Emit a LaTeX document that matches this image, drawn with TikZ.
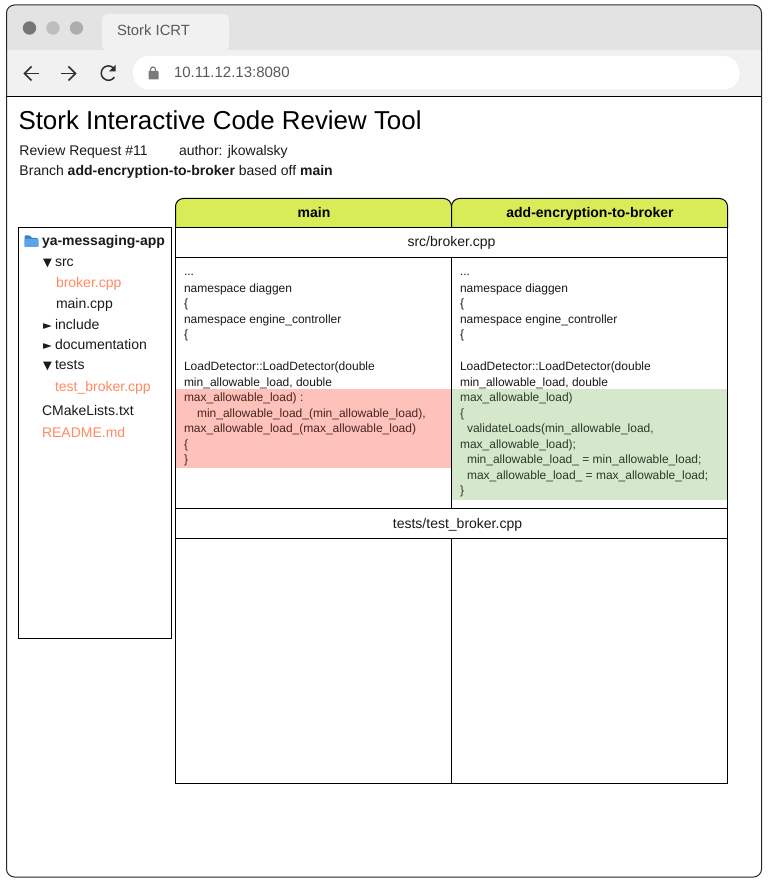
\documentclass[tikz,border=0pt]{standalone}
\usepackage{fontspec}
\setmainfont{Liberation Sans}
\newfontfamily\symfont{DejaVu Sans}
\definecolor{ink}{HTML}{1A1A1A}
\definecolor{orangetxt}{HTML}{FF8A60}
\definecolor{strip}{HTML}{E3E3E3}
\definecolor{bar}{HTML}{F1F1F1}
\definecolor{headfill}{HTML}{D7EC57}
\definecolor{redfill}{HTML}{FFC2BB}
\definecolor{greenfill}{HTML}{D5E8CB}
\definecolor{redink}{HTML}{4A2422}
\definecolor{greenink}{HTML}{2C3A2A}
\definecolor{folderback}{HTML}{3F7FC4}
\definecolor{folderfront}{HTML}{5AA5E8}
\definecolor{icon}{HTML}{2E2E2E}
\newcommand{\fs}[1]{\fontsize{#1}{#1}\selectfont}
\tikzset{
  txt/.style={anchor=base west,inner sep=0pt,outer sep=0pt,text=ink},
  code/.style={txt,font=\fs{12}},
  redcode/.style={code,text=redink},
  greencode/.style={code,text=greenink},
  tree/.style={txt,font=\fs{14}},
  hot/.style={tree,text=orangetxt},
  mid/.style={anchor=base,inner sep=0pt,outer sep=0pt,text=ink},
  rule/.style={draw=black,line width=1pt},
  nav/.style={draw=icon,line width=1.5pt},
}
\begin{document}
\begin{tikzpicture}[x=1pt,y=-1pt]
\useasboundingbox (0,0) rectangle (768,882);
\fill[white] (0,0) rectangle (768,882);
% window
\fill[white,rounded corners=8pt] (6.5,5.5) rectangle (761.5,877);
\fill[strip,rounded corners=8pt] (6.5,5.5) rectangle (761.5,60);
\fill[bar] (6.5,50) rectangle (761.5,96.5);
\fill[bar,rounded corners=5pt] (102,14) -- (229,14) -- (229,50.5) -- (102,50.5) -- cycle;
\fill[white,rounded corners=16pt] (133,56) rectangle (739.5,89.5);
\draw[rule] (6.5,96.5) -- (761.5,96.5);
\draw[draw=black!85,line width=1pt,rounded corners=8pt] (6.5,5) rectangle (761.5,877);
% dots
\fill[black!54] (29.5,28) circle (6.7);
\fill[black!26] (53,28) circle (6.7);
\fill[black!32] (76.5,28) circle (6.7);
\node[txt,font=\fs{14.8},text=black!65] (tabtitle) at (117,36) {Stork ICRT};
% nav icons
\draw[nav] (39,73.5) -- (25,73.5);
\draw[nav] (31.5,66.5) -- (24.5,73.5) -- (31.5,80.5);
\draw[nav] (61,73.5) -- (75,73.5);
\draw[nav] (68.5,66.5) -- (75.5,73.5) -- (68.5,80.5);
\draw[nav] (113.5,68) arc[start angle=-45,end angle=-325,radius=7.2];
\fill[icon] (115.5,65) -- (115.5,71.5) -- (109,71.5) -- cycle;
% lock
\fill[black!52,rounded corners=0.6pt] (148.5,71) rectangle (158.5,79.5);
\draw[black!52,line width=1.2pt] (150.5,71) -- (150.5,69.5) arc[start angle=180,end angle=360,radius=2.5] -- (155.5,71);
\node[txt,font=\fs{15},text=black!65] (url) at (174,77.5) {10.11.12.13:8080};
% headings
\node[txt,font=\fs{25.9},text=black] (title) at (18.5,129.5) {Stork Interactive Code Review Tool};
\node[txt,font=\fs{14}] (req) at (19.5,155.5) {Review Request \#11};
\node[txt,font=\fs{14}] (author) at (179,155.5) {author: jkowalsky};
\node[txt,font=\fs{14}] (branch) at (19.5,176) {Branch \textbf{add-encryption-to-broker} based off \textbf{main}};
% tree panel
\draw[rule,fill=white] (18.5,227.5) rectangle (171.5,638.5);
\fill[folderback,rounded corners=0.8pt] (24.5,235.5) -- (30,235.5) -- (32,238) -- (38,238) -- (38,247) -- (24.5,247) -- cycle;
\fill[folderfront,rounded corners=0.8pt] (24.5,239) -- (38.5,239) -- (38.5,247) -- (24.5,247) -- cycle;
\node[tree,font=\bfseries\fs{14}] (root) at (42,246) {ya-messaging-app};
\node[tree,font=\symfont\fs{11.5}] (t1) at (43,266) {▼};
\node[tree] (src) at (55,266) {src};
\node[hot] (broker) at (56,287.5) {broker.cpp};
\node[tree] (maincpp) at (56,308) {main.cpp};
\node[tree,font=\symfont\fs{11.5}] (t2) at (43,329) {►};
\node[tree] (include) at (55,329) {include};
\node[tree,font=\symfont\fs{11.5}] (t3) at (43,349) {►};
\node[tree] (doc) at (55,349) {documentation};
\node[tree,font=\symfont\fs{11.5}] (t4) at (43,369.5) {▼};
\node[tree] (tests) at (55,369) {tests};
\node[hot] (testbroker) at (55,391) {test\_broker.cpp};
\node[tree] (cmake) at (42,415) {CMakeLists.txt};
\node[hot] (readme) at (42,437) {README.md};
% diff table
\fill[redfill] (176,388.5) rectangle (451.5,468);
\fill[greenfill] (451.5,388.5) rectangle (727.5,499.5);
\draw[rule,fill=headfill,rounded corners=8pt] (175.5,228) -- (175.5,198.5) -- (451.5,198.5) -- (451.5,228);
\draw[rule,fill=headfill,rounded corners=8pt] (451.5,228) -- (451.5,198.5) -- (727.5,198.5) -- (727.5,228);
\draw[rule] (175.5,228) -- (175.5,783.5) -- (727.5,783.5) -- (727.5,228);
\draw[rule] (175.5,227.5) -- (727.5,227.5);
\draw[rule] (175.5,257.5) -- (727.5,257.5);
\draw[rule] (175.5,508.5) -- (727.5,508.5);
\draw[rule] (175.5,538.5) -- (727.5,538.5);
\draw[rule] (451.5,257.5) -- (451.5,508.5);
\draw[rule] (451.5,538.5) -- (451.5,783.5);
\node[mid,font=\bfseries\fs{14},text=black] (hmain) at (314,217.5) {main};
\node[mid,font=\bfseries\fs{14},text=black] (hadd) at (590,217.5) {add-encryption-to-broker};
\node[mid,font=\fs{14}] (f1) at (451.5,246.5) {src/broker.cpp};
\node[mid,font=\fs{14}] (f2) at (457.5,528) {tests/test\_broker.cpp};
% left code
\node[code] (l1) at (184,276) {...};
\node[code] (l2) at (184,292) {namespace diaggen};
\node[code] (l3) at (184,307) {\{};
\node[code] (l4) at (184,323) {namespace engine\_controller};
\node[code] (l5) at (184,338) {\{};
\node[code] (l6) at (184,370) {LoadDetector::LoadDetector(double};
\node[code] (l7) at (184,386) {min\_allowable\_load, double};
\node[redcode] (l8) at (184,401) {max\_allowable\_load) :};
\node[redcode] (l9) at (197,417) {min\_allowable\_load\_(min\_allowable\_load),};
\node[redcode] (l10) at (184,432) {max\_allowable\_load\_(max\_allowable\_load)};
\node[redcode] (l11) at (184,448) {\{};
\node[redcode] (l12) at (184,463) {\}};
% right code
\node[code] (r1) at (460,276) {...};
\node[code] (r2) at (460,292) {namespace diaggen};
\node[code] (r3) at (460,307) {\{};
\node[code] (r4) at (460,323) {namespace engine\_controller};
\node[code] (r5) at (460,338) {\{};
\node[code] (r6) at (460,370) {LoadDetector::LoadDetector(double};
\node[code] (r7) at (460,386) {min\_allowable\_load, double};
\node[greencode] (r8) at (460,401) {max\_allowable\_load)};
\node[greencode] (r9) at (460,417) {\{};
\node[greencode] (r10) at (467,432) {validateLoads(min\_allowable\_load,};
\node[greencode] (r11) at (460,448) {max\_allowable\_load);};
\node[greencode] (r12) at (467,463) {min\_allowable\_load\_ = min\_allowable\_load;};
\node[greencode] (r13) at (467,479) {max\_allowable\_load\_ = max\_allowable\_load;};
\node[greencode] (r14) at (460,494) {\}};
\end{tikzpicture}
\end{document}
